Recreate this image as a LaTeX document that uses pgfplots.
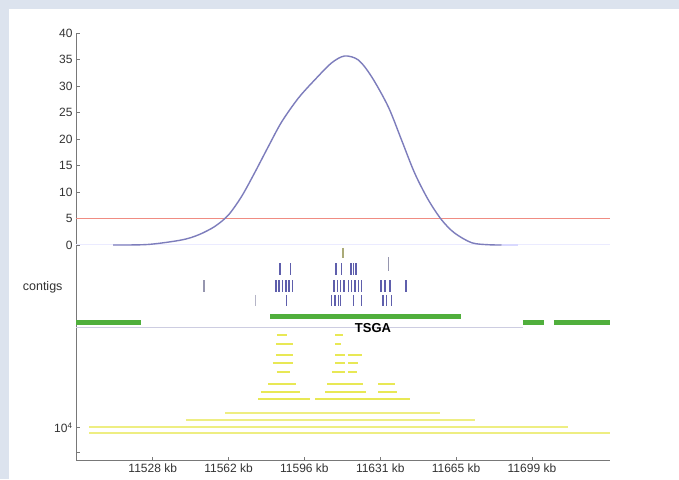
\documentclass[border=0pt]{standalone}
\usepackage{pgfplots}
\pgfplotsset{compat=1.18}
\usepackage{fontspec}
\setmainfont{Liberation Sans}

\definecolor{bgblue}{RGB}{220,227,238}
\definecolor{lodblue}{RGB}{125,125,188}
\definecolor{thresh}{RGB}{240,140,130}
\definecolor{contig}{RGB}{95,95,172}
\definecolor{contiggrey}{RGB}{150,150,175}
\definecolor{tsgagreen}{RGB}{80,175,60}
\definecolor{ylw}{RGB}{232,232,85}
\definecolor{paleylw}{RGB}{238,238,130}
\definecolor{axgrey}{RGB}{120,120,120}

\begin{document}
\begin{tikzpicture}[x=1pt,y=1pt]
\fill[bgblue] (0,0) rectangle (679,479);
\fill[white] (9,0) rectangle (679,470);
\begin{axis}[
  at={(76pt,18.3pt)}, anchor=south west,
  scale only axis, width=534pt, height=427.7pt,
  xmin=11493.4, xmax=11734.2, ymin=-40.7, ymax=40,
  axis x line*=bottom, axis y line*=left,
  axis line style={axgrey, line width=0.9pt, -},
  tick style={axgrey, line width=0.8pt},
  major tick length=4pt,
  xtick={11528,11562.2,11596.4,11630.6,11664.8,11699},
  xticklabels={11528 kb,11562 kb,11596 kb,11631 kb,11665 kb,11699 kb},
  ytick={-39.2,-34.5,0,5,10,15,20,25,30,35,40},
  yticklabels={{},{10\textsuperscript{4}},0,5,10,15,20,25,30,35,40},
  tick label style={font=\fontsize{12}{14}\selectfont, text=black!80},
  unbounded coords=jump,
  clip=false,
]
% faint zero line
\addplot[color=blue!8, line width=1pt] coordinates {(11493.4,0) (11734.2,0)};
% threshold
\addplot[thresh, line width=1.3pt] coordinates {(11493.4,5) (11734.2,5)};
% LOD curve
\addplot[lodblue, line width=1.4pt, smooth] coordinates {
(11510.1,0) (11525.9,0.1) (11540.9,0.94) (11548.5,1.89) (11555.8,3.45)
(11562.0,5.6) (11568.0,9.11) (11573.9,13.58) (11580.1,18.55) (11586.1,23.2)
(11593.6,27.68) (11601.0,31.13) (11608.6,34.34) (11614.5,35.66) (11620.7,34.91)
(11626.7,31.75) (11634.2,26.09) (11640.2,19.81) (11646.1,13.58) (11652.3,8.49)
(11658.3,4.72) (11664.1,2.26) (11671.8,0.43) (11679.3,0.05) (11685.3,0)};
\addplot[blue!15, line width=1.2pt] coordinates {(11685.3,0) (11692.9,0)};
% contig ticks
\addplot[only marks, mark=|, mark size=5pt, mark options={line width=1.2pt, color={rgb,255:red,170;green,170;blue,120}}] coordinates {(11613.8,-1.5)};
\addplot[only marks, mark=|, mark size=6pt, mark options={line width=1.3pt, color=contig}] coordinates {
(11585.4,-4.53) (11590.1,-4.53) (11610.6,-4.53) (11613.1,-4.53) (11617.4,-4.53) (11618.5,-4.53) (11619.6,-4.53)};
\addplot[only marks, mark=|, mark size=7pt, mark options={line width=1pt, color=contiggrey}] coordinates {(11634.5,-3.6)};
\addplot[only marks, mark=|, mark size=6pt, mark options={line width=1.3pt, color=contig}] coordinates {
(11583.6,-7.74) (11584.9,-7.74) (11586.6,-7.74) (11588.1,-7.74) (11589.4,-7.74) (11591.1,-7.74)
(11609.7,-7.74) (11611.2,-7.74) (11612.7,-7.74) (11614.2,-7.74) (11616.2,-7.74) (11617.7,-7.74)
(11619.2,-7.74) (11620.7,-7.74) (11622.2,-7.74) (11630.9,-7.74) (11632.7,-7.74) (11635.0,-7.74)
(11642.2,-7.74)};
\addplot[only marks, mark=|, mark size=6pt, mark options={line width=1.2pt, color=contiggrey}] coordinates {(11551.1,-7.74)};
\addplot[only marks, mark=|, mark size=5.5pt, mark options={line width=1.3pt, color=contig}] coordinates {
(11588.4,-10.47) (11608.7,-10.47) (11610.2,-10.47) (11611.7,-10.47) (11612.7,-10.47)
(11618.4,-10.47) (11622.2,-10.47) (11631.9,-10.47) (11633.5,-10.47) (11635.7,-10.47)};
\addplot[only marks, mark=|, mark size=5.5pt, mark options={line width=1pt, color=contiggrey!70}] coordinates {(11574.4,-10.47)};
% thin line and green TSGA segments
\addplot[color={rgb,255:red,205;green,205;blue,225}, line width=0.9pt] coordinates {(11493.4,-15.5) (11694.9,-15.5)};
\addplot[tsgagreen, line width=5pt] coordinates {(11580.9,-13.4) (11667.0,-13.4)};
\addplot[tsgagreen, line width=5pt] coordinates {
(11493.4,-14.6) (11522.7,-14.6) (nan,nan)
(11694.9,-14.6) (11704.4,-14.6) (nan,nan)
(11708.9,-14.6) (11734.2,-14.6)};
\node[font=\fontsize{13}{15}\selectfont\bfseries] at (axis cs:11627.3,-15.6) {TSGA};
% yellow segments
\addplot[ylw, line width=1.6pt] coordinates {
(11584.0,-17.0) (11588.4,-17.0) (nan,nan) (11610.2,-17.0) (11613.8,-17.0) (nan,nan)
(11583.6,-18.7) (11591.2,-18.7) (nan,nan) (11610.2,-18.7) (11612.9,-18.7) (nan,nan)
(11583.6,-20.8) (11591.2,-20.8) (nan,nan) (11610.2,-20.8) (11614.7,-20.8) (nan,nan) (11616.0,-20.8) (11622.3,-20.8) (nan,nan)
(11582.2,-22.3) (11591.2,-22.3) (nan,nan) (11610.2,-22.3) (11614.7,-22.3) (nan,nan) (11616.0,-22.3) (11620.5,-22.3) (nan,nan)
(11584.0,-24.0) (11589.9,-24.0) (nan,nan) (11608.8,-24.0) (11614.7,-24.0) (nan,nan) (11616.0,-24.0) (11620.1,-24.0) (nan,nan)
(11580.0,-26.2) (11592.6,-26.2) (nan,nan) (11606.6,-26.2) (11622.8,-26.2) (nan,nan) (11629.6,-26.2) (11637.2,-26.2) (nan,nan)
(11576.8,-27.7) (11594.4,-27.7) (nan,nan) (11605.7,-27.7) (11624.1,-27.7) (nan,nan) (11629.6,-27.7) (11638.1,-27.7) (nan,nan)
(11575.5,-29.1) (11598.9,-29.1) (nan,nan) (11601.2,-29.1) (11644.0,-29.1)};
\addplot[paleylw, line width=1.6pt] coordinates {
(11560.6,-31.7) (11657.5,-31.7) (nan,nan)
(11543.0,-33.0) (11673.3,-33.0) (nan,nan)
(11499.3,-34.3) (11715.2,-34.3) (nan,nan)
(11499.3,-35.5) (11734.2,-35.5)};
\node[font=\fontsize{12.5}{14}\selectfont, anchor=east, text=black!80] at (axis cs:11493.4,-7.9) [xshift=-10pt] {contigs};
\end{axis}
\pgfresetboundingbox
\useasboundingbox (0,0) rectangle (679,479);
\end{tikzpicture}
\end{document}
